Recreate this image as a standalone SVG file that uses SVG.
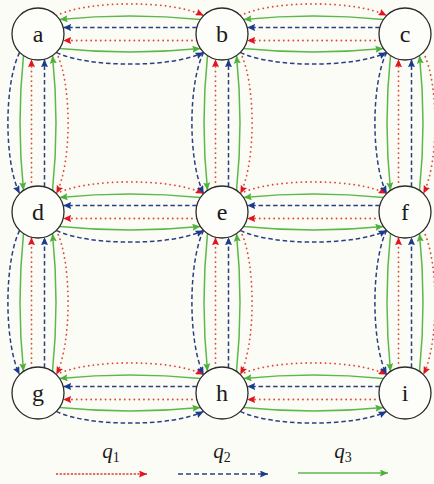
<svg xmlns="http://www.w3.org/2000/svg" width="434" height="484" viewBox="0 0 434 484">
<style>
.bg{fill:#fcfcf6}
.node circle{fill:#fdfdf9;stroke:#2a2a2a;stroke-width:1.3}
.node text{font-family:"Liberation Serif","DejaVu Serif",serif;font-size:24px;text-anchor:middle;fill:#1a1a1a}
.r{fill:none;stroke:#e04a3a;stroke-width:1.8;stroke-dasharray:0.1 4.7;stroke-linecap:round;marker-end:url(#arrR)}
.b{fill:none;stroke:#2c3f84;stroke-width:1.5;stroke-dasharray:4.5 2.8;marker-end:url(#arrB)}
.g{fill:none;stroke:#5cb84a;stroke-width:1.5;marker-end:url(#arrG)}
.lr{fill:none;stroke:#e03a30;stroke-width:1.6;stroke-dasharray:2.2 1.5;marker-end:url(#arrR)}
.lb{fill:none;stroke:#2c3f84;stroke-width:1.6;stroke-dasharray:5 3;marker-end:url(#arrB)}
.lg{fill:none;stroke:#5cb84a;stroke-width:1.6;marker-end:url(#arrG)}
.q{font-family:"Liberation Serif","DejaVu Serif",serif;font-style:italic;font-size:21px;fill:#1a1a1a;text-anchor:middle}
.sub{font-style:normal;font-size:14px}
</style>
<defs>
<marker id="arrR" viewBox="0 0 8 7" refX="8" refY="3.5" markerWidth="8" markerHeight="7" markerUnits="userSpaceOnUse" orient="auto"><path d="M0,0 L8,3.5 L0,7 L1.2,3.5 z" fill="#e3141e"/></marker>
<marker id="arrB" viewBox="0 0 8 7" refX="8" refY="3.5" markerWidth="8" markerHeight="7" markerUnits="userSpaceOnUse" orient="auto"><path d="M0,0 L8,3.5 L0,7 L1.2,3.5 z" fill="#1a3a90"/></marker>
<marker id="arrG" viewBox="0 0 8 7" refX="8" refY="3.5" markerWidth="8" markerHeight="7" markerUnits="userSpaceOnUse" orient="auto"><path d="M0,0 L8,3.5 L0,7 L1.2,3.5 z" fill="#4fb13c"/></marker>
</defs>
<rect class="bg" x="0" y="0" width="434" height="484"/>
<g id="connectors">
<g id="e-a-b" transform="translate(38,34)">
<path class="r" d="M18.4,-18.4 C50,-34 134,-34 165.6,-18.4"/>
<path class="g" d="M162.4,-14.5 Q92,-21.5 21.6,-14.5"/>
<path class="b" d="M158.8,-6.5 L25.2,-6.5"/>
<path class="r" d="M158.8,6.5 L25.2,6.5"/>
<path class="g" d="M21.6,14.5 Q92,21.5 162.4,14.5"/>
<path class="b" d="M18.4,18.4 C50,34 134,34 165.6,18.4"/>
</g>
<g id="e-b-c" transform="translate(222,34)">
<path class="r" d="M18.4,-18.4 C50,-34 133,-34 164.6,-18.4"/>
<path class="g" d="M161.4,-14.5 Q91.5,-21.5 21.6,-14.5"/>
<path class="b" d="M157.8,-6.5 L25.2,-6.5"/>
<path class="r" d="M157.8,6.5 L25.2,6.5"/>
<path class="g" d="M21.6,14.5 Q91.5,21.5 161.4,14.5"/>
<path class="b" d="M18.4,18.4 C50,34 133,34 164.6,18.4"/>
</g>
<g id="e-d-e" transform="translate(38,212)">
<path class="r" d="M18.4,-18.4 C50,-34 134,-34 165.6,-18.4"/>
<path class="g" d="M162.4,-14.5 Q92,-21.5 21.6,-14.5"/>
<path class="b" d="M158.8,-6.5 L25.2,-6.5"/>
<path class="r" d="M158.8,6.5 L25.2,6.5"/>
<path class="g" d="M21.6,14.5 Q92,21.5 162.4,14.5"/>
<path class="b" d="M18.4,18.4 C50,34 134,34 165.6,18.4"/>
</g>
<g id="e-e-f" transform="translate(222,212)">
<path class="r" d="M18.4,-18.4 C50,-34 133,-34 164.6,-18.4"/>
<path class="g" d="M161.4,-14.5 Q91.5,-21.5 21.6,-14.5"/>
<path class="b" d="M157.8,-6.5 L25.2,-6.5"/>
<path class="r" d="M157.8,6.5 L25.2,6.5"/>
<path class="g" d="M21.6,14.5 Q91.5,21.5 161.4,14.5"/>
<path class="b" d="M18.4,18.4 C50,34 133,34 164.6,18.4"/>
</g>
<g id="e-g-h" transform="translate(38,393)">
<path class="r" d="M18.4,-18.4 C50,-34 134,-34 165.6,-18.4"/>
<path class="g" d="M162.4,-14.5 Q92,-21.5 21.6,-14.5"/>
<path class="b" d="M158.8,-6.5 L25.2,-6.5"/>
<path class="r" d="M158.8,6.5 L25.2,6.5"/>
<path class="g" d="M21.6,14.5 Q92,21.5 162.4,14.5"/>
<path class="b" d="M18.4,18.4 C50,34 134,34 165.6,18.4"/>
</g>
<g id="e-h-i" transform="translate(222,393)">
<path class="r" d="M18.4,-18.4 C50,-34 133,-34 164.6,-18.4"/>
<path class="g" d="M161.4,-14.5 Q91.5,-21.5 21.6,-14.5"/>
<path class="b" d="M157.8,-6.5 L25.2,-6.5"/>
<path class="r" d="M157.8,6.5 L25.2,6.5"/>
<path class="g" d="M21.6,14.5 Q91.5,21.5 161.4,14.5"/>
<path class="b" d="M18.4,18.4 C50,34 133,34 164.6,18.4"/>
</g>
<g id="e-a-d" transform="translate(38,34) rotate(90)">
<path class="r" d="M18.4,-18.4 C50,-34 128,-34 159.6,-18.4"/>
<path class="g" d="M156.4,-14.5 Q89,-21.5 21.6,-14.5"/>
<path class="b" d="M152.8,-6.5 L25.2,-6.5"/>
<path class="r" d="M152.8,6.5 L25.2,6.5"/>
<path class="g" d="M21.6,14.5 Q89,21.5 156.4,14.5"/>
<path class="b" d="M18.4,18.4 C50,34 128,34 159.6,18.4"/>
</g>
<g id="e-d-g" transform="translate(38,212) rotate(90)">
<path class="r" d="M18.4,-18.4 C50,-34 131,-34 162.6,-18.4"/>
<path class="g" d="M159.4,-14.5 Q90.5,-21.5 21.6,-14.5"/>
<path class="b" d="M155.8,-6.5 L25.2,-6.5"/>
<path class="r" d="M155.8,6.5 L25.2,6.5"/>
<path class="g" d="M21.6,14.5 Q90.5,21.5 159.4,14.5"/>
<path class="b" d="M18.4,18.4 C50,34 131,34 162.6,18.4"/>
</g>
<g id="e-b-e" transform="translate(222,34) rotate(90)">
<path class="r" d="M18.4,-18.4 C50,-34 128,-34 159.6,-18.4"/>
<path class="g" d="M156.4,-14.5 Q89,-21.5 21.6,-14.5"/>
<path class="b" d="M152.8,-6.5 L25.2,-6.5"/>
<path class="r" d="M152.8,6.5 L25.2,6.5"/>
<path class="g" d="M21.6,14.5 Q89,21.5 156.4,14.5"/>
<path class="b" d="M18.4,18.4 C50,34 128,34 159.6,18.4"/>
</g>
<g id="e-e-h" transform="translate(222,212) rotate(90)">
<path class="r" d="M18.4,-18.4 C50,-34 131,-34 162.6,-18.4"/>
<path class="g" d="M159.4,-14.5 Q90.5,-21.5 21.6,-14.5"/>
<path class="b" d="M155.8,-6.5 L25.2,-6.5"/>
<path class="r" d="M155.8,6.5 L25.2,6.5"/>
<path class="g" d="M21.6,14.5 Q90.5,21.5 159.4,14.5"/>
<path class="b" d="M18.4,18.4 C50,34 131,34 162.6,18.4"/>
</g>
<g id="e-c-f" transform="translate(405,34) rotate(90)">
<path class="r" d="M18.4,-18.4 C50,-34 128,-34 159.6,-18.4"/>
<path class="g" d="M156.4,-14.5 Q89,-21.5 21.6,-14.5"/>
<path class="b" d="M152.8,-6.5 L25.2,-6.5"/>
<path class="r" d="M152.8,6.5 L25.2,6.5"/>
<path class="g" d="M21.6,14.5 Q89,21.5 156.4,14.5"/>
<path class="b" d="M18.4,18.4 C50,34 128,34 159.6,18.4"/>
</g>
<g id="e-f-i" transform="translate(405,212) rotate(90)">
<path class="r" d="M18.4,-18.4 C50,-34 131,-34 162.6,-18.4"/>
<path class="g" d="M159.4,-14.5 Q90.5,-21.5 21.6,-14.5"/>
<path class="b" d="M155.8,-6.5 L25.2,-6.5"/>
<path class="r" d="M155.8,6.5 L25.2,6.5"/>
<path class="g" d="M21.6,14.5 Q90.5,21.5 159.4,14.5"/>
<path class="b" d="M18.4,18.4 C50,34 131,34 162.6,18.4"/>
</g>
</g>
<g id="node-a" class="node"><circle cx="38" cy="34" r="26"/><text x="38" y="42">a</text></g>
<g id="node-b" class="node"><circle cx="222" cy="34" r="26"/><text x="222" y="42">b</text></g>
<g id="node-c" class="node"><circle cx="405" cy="34" r="26"/><text x="405" y="42">c</text></g>
<g id="node-d" class="node"><circle cx="38" cy="212" r="26"/><text x="38" y="220">d</text></g>
<g id="node-e" class="node"><circle cx="222" cy="212" r="26"/><text x="222" y="220">e</text></g>
<g id="node-f" class="node"><circle cx="405" cy="212" r="26"/><text x="405" y="220">f</text></g>
<g id="node-g" class="node"><circle cx="38" cy="393" r="26"/><text x="38" y="401">g</text></g>
<g id="node-h" class="node"><circle cx="222" cy="393" r="26"/><text x="222" y="401">h</text></g>
<g id="node-i" class="node"><circle cx="405" cy="393" r="26"/><text x="405" y="401">i</text></g>
<g id="legend">
<text class="q" x="111" y="458">q<tspan class="sub" dy="4">1</tspan></text>
<text class="q" x="222" y="458">q<tspan class="sub" dy="4">2</tspan></text>
<text class="q" x="343" y="458">q<tspan class="sub" dy="4">3</tspan></text>
<path class="lr" d="M56,474 L147,474"/>
<path class="lb" d="M178,474 L268,474"/>
<path class="lg" d="M298,473 L388,473"/>
</g>
</svg>
